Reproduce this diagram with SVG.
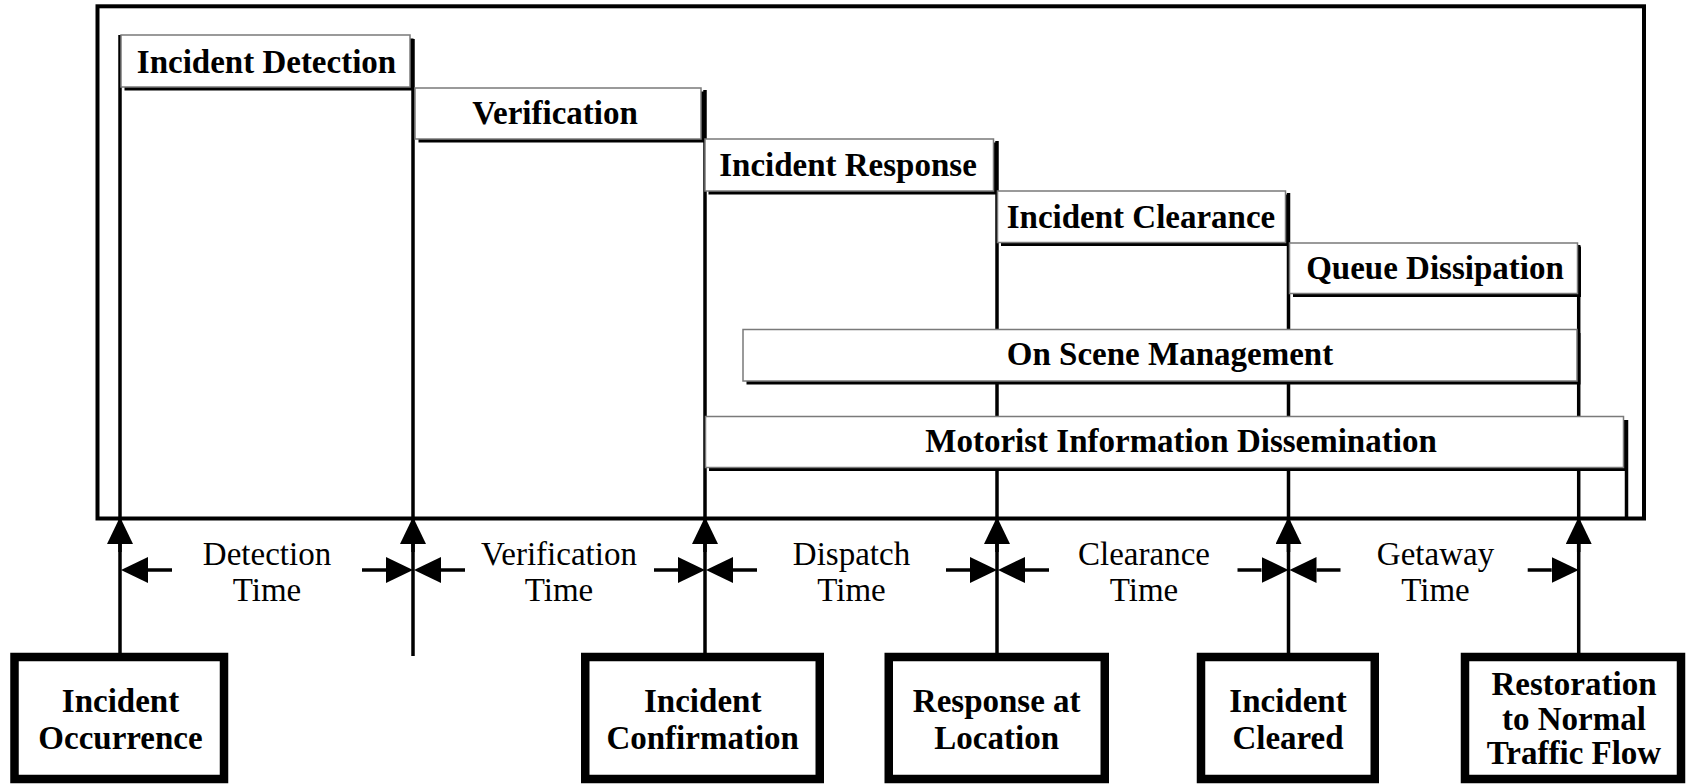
<svg xmlns="http://www.w3.org/2000/svg" width="1686" height="784" viewBox="0 0 1686 784">
<style>
.bg{fill:#fff}
.frame{fill:none;stroke:#000;stroke-width:4}
.shadow{fill:#000}
.bar{fill:#fff;stroke:#7a7a7a;stroke-width:1.5}
.ln{stroke:#000;stroke-width:3.5;fill:none}
.ev{fill:#fff;stroke:#000;stroke-width:8.5}
.b{font-family:"Liberation Serif","Times New Roman",serif;font-weight:bold;font-size:33px;text-anchor:middle;fill:#000}
.r{font-family:"Liberation Serif","Times New Roman",serif;font-weight:normal;font-size:33px;text-anchor:middle;fill:#000}
</style>
<defs>
<marker id="ah" markerUnits="userSpaceOnUse" markerWidth="28" markerHeight="26" refX="0" refY="13" orient="auto" viewBox="0 0 28 26">
<path d="M0,0 L27,13 L0,26 Z" fill="#000"/>
</marker>
</defs>
<rect class="bg" x="0" y="0" width="1686" height="784"/>
<rect id="frame" class="frame" x="97.5" y="6.3" width="1546.5" height="512.2"/>

<g id="connectors">
<path class="ln" d="M120,35 V653"/>
<path class="ln" d="M413,39 V656"/>
<path class="ln" d="M705,90 V653"/>
<path class="ln" d="M997,141 V653"/>
<path class="ln" d="M1288.5,193 V653"/>
<path class="ln" d="M1578.7,245 V653"/>
<path class="ln" d="M1626.5,420 V518"/>
<!-- up arrowheads at frame bottom -->
<path class="ln" d="M120,552 V544" marker-end="url(#ah)"/>
<path class="ln" d="M413,552 V544" marker-end="url(#ah)"/>
<path class="ln" d="M705,552 V544" marker-end="url(#ah)"/>
<path class="ln" d="M997,552 V544" marker-end="url(#ah)"/>
<path class="ln" d="M1288.5,552 V544" marker-end="url(#ah)"/>
<path class="ln" d="M1578.7,552 V544" marker-end="url(#ah)"/>
<!-- interval dimension arrows -->
<path class="ln" d="M172,570 H148" marker-end="url(#ah)"/>
<path class="ln" d="M362,570 H386" marker-end="url(#ah)"/>
<path class="ln" d="M465,570 H441" marker-end="url(#ah)"/>
<path class="ln" d="M654,570 H678" marker-end="url(#ah)"/>
<path class="ln" d="M757,570 H733" marker-end="url(#ah)"/>
<path class="ln" d="M946,570 H970" marker-end="url(#ah)"/>
<path class="ln" d="M1049,570 H1025" marker-end="url(#ah)"/>
<path class="ln" d="M1237.5,570 H1261.5" marker-end="url(#ah)"/>
<path class="ln" d="M1340.5,570 H1316.5" marker-end="url(#ah)"/>
<path class="ln" d="M1527.7,570 H1551.7" marker-end="url(#ah)"/>
</g>

<g id="bar-detection">
<rect class="shadow" x="124.5" y="38.5" width="289" height="52"/>
<rect class="bar" x="121" y="35" width="289" height="52"/>
<text class="b" x="266.5" y="72.5">Incident Detection</text>
</g>
<g id="bar-verification">
<rect class="shadow" x="418.5" y="91.5" width="286" height="51"/>
<rect class="bar" x="415" y="88" width="286" height="51"/>
<text class="b" x="555" y="124">Verification</text>
</g>
<g id="bar-response">
<rect class="shadow" x="708.5" y="142.5" width="288.5" height="52"/>
<rect class="bar" x="705" y="139" width="288.5" height="52"/>
<text class="b" x="848" y="176">Incident Response</text>
</g>
<g id="bar-clearance">
<rect class="shadow" x="1001" y="194.5" width="288" height="51.5"/>
<rect class="bar" x="997.5" y="191" width="288" height="51.5"/>
<text class="b" x="1141" y="228">Incident Clearance</text>
</g>
<g id="bar-queue">
<rect class="shadow" x="1293" y="246.5" width="288" height="50.5"/>
<rect class="bar" x="1289.5" y="243" width="288" height="50.5"/>
<text class="b" x="1435" y="278.5">Queue Dissipation</text>
</g>
<g id="bar-onscene">
<rect class="shadow" x="746.5" y="333" width="834" height="51.5"/>
<rect class="bar" x="743" y="329.5" width="834" height="51.5"/>
<text class="b" x="1170" y="364.5">On Scene Management</text>
</g>
<g id="bar-motorist">
<rect class="shadow" x="709" y="420" width="918" height="51"/>
<rect class="bar" x="705.5" y="416.5" width="918" height="51"/>
<text class="b" x="1181" y="451.5">Motorist Information Dissemination</text>
</g>

<g id="interval-labels">
<text class="r" x="267" y="565">Detection</text>
<text class="r" x="267" y="601">Time</text>
<text class="r" x="559" y="565">Verification</text>
<text class="r" x="559" y="601">Time</text>
<text class="r" x="851.5" y="565">Dispatch</text>
<text class="r" x="851.5" y="601">Time</text>
<text class="r" x="1144" y="565">Clearance</text>
<text class="r" x="1144" y="601">Time</text>
<text class="r" x="1435.5" y="565">Getaway</text>
<text class="r" x="1435.5" y="601">Time</text>
</g>

<g id="ev-occurrence">
<rect class="ev" x="14.5" y="657" width="209.5" height="122"/>
<text class="b" x="120.5" y="711.5">Incident</text>
<text class="b" x="120.5" y="749">Occurrence</text>
</g>
<g id="ev-confirmation">
<rect class="ev" x="585.25" y="657" width="234.5" height="122"/>
<text class="b" x="702.7" y="711.5">Incident</text>
<text class="b" x="702.7" y="749">Confirmation</text>
</g>
<g id="ev-location">
<rect class="ev" x="888.75" y="657" width="216" height="122"/>
<text class="b" x="996.7" y="711.5">Response at</text>
<text class="b" x="996.7" y="749">Location</text>
</g>
<g id="ev-cleared">
<rect class="ev" x="1201" y="657" width="173.75" height="122"/>
<text class="b" x="1288" y="711.5">Incident</text>
<text class="b" x="1288" y="749">Cleared</text>
</g>
<g id="ev-restoration">
<rect class="ev" x="1465" y="657" width="216" height="122"/>
<text class="b" x="1574" y="695">Restoration</text>
<text class="b" x="1574" y="729.5">to Normal</text>
<text class="b" x="1574" y="764">Traffic Flow</text>
</g>
</svg>
